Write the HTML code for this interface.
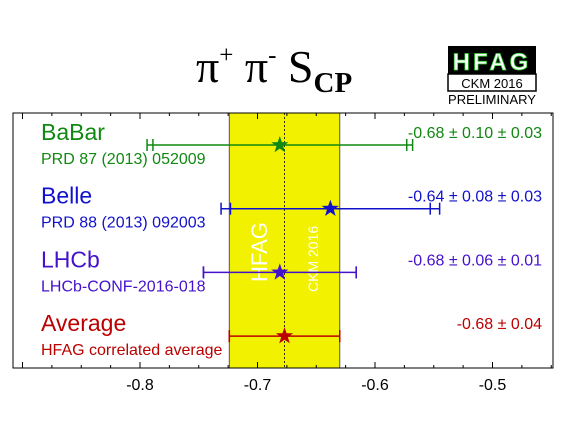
<!DOCTYPE html>
<html><head><meta charset="utf-8"><style>
body{margin:0;background:#fff;}
svg{display:block;font-family:"Liberation Sans",sans-serif;}
</style></head><body>
<svg width="567" height="425" viewBox="0 0 567 425">
<text x="196" y="82" font-family="Liberation Serif" font-size="46">π<tspan font-size="25" dy="-19">+</tspan><tspan dy="19"> π</tspan><tspan font-size="25" dy="-19">-</tspan><tspan dy="19"> S</tspan><tspan font-size="29" font-weight="bold" dy="10">CP</tspan></text>
<g>
<rect x="448" y="46" width="88" height="28" fill="#000"/>
<text x="492" y="70" font-size="24" font-weight="bold" fill="#fff" stroke="#3c3" stroke-width="0.8" text-anchor="middle" letter-spacing="3">HFAG</text>
<rect x="448" y="74" width="88" height="17" fill="#fff" stroke="#000" stroke-width="1.5"/>
<text x="492" y="88" font-size="13" text-anchor="middle">CKM 2016</text>
<text x="492" y="104" font-size="13" text-anchor="middle">PRELIMINARY</text>
</g>
<g id="plot"></g>
</svg>
<script>
const xTicks=[-0.8,-0.7,-0.6,-0.5];
const names=["BaBar","Belle","LHCb","Average"];
const refs=["PRD 87 (2013) 052009","PRD 88 (2013) 092003","LHCb-CONF-2016-018","HFAG correlated average"];
const centers=[-0.681,-0.638,-0.681,-0.677];
const statErr=[0.108,0.085,0.065,0.047];
const totErr=[0.113,0.093,0.065,0.047];
const valueText=["-0.68 ± 0.10 ± 0.03","-0.64 ± 0.08 ± 0.03","-0.68 ± 0.06 ± 0.01","-0.68 ± 0.04"];
const colors=["#118811","#1111cc","#4411cc","#bb0000"];
const band=[-0.724,-0.630];
const bandCenter=-0.677;
const X=v=>140+(v+0.8)*1175;
const rowY=i=>145+i*63.7;
const g=document.getElementById('plot');
const NS="http://www.w3.org/2000/svg";
function mk(t,a,txt){const e=document.createElementNS(NS,t);for(const k in a)e.setAttribute(k,a[k]);if(txt!=null)e.textContent=txt;g.appendChild(e);return e;}
let e;
e=mk('rect',{x:X(band[0]),y:113,width:X(band[1])-X(band[0]),height:255,fill:'#f2f200',stroke:'#555','stroke-width':1});


e=mk('line',{x1:X(bandCenter),x2:X(bandCenter),y1:113,y2:368,stroke:'#000','stroke-width':0.8,'stroke-dasharray':'2,2'});


e=mk('text',{x:0,y:0,transform:`translate(267,282) rotate(-90)`,fill:'#fff','font-size':22},'HFAG');


e=mk('text',{x:0,y:0,transform:`translate(318,292) rotate(-90)`,fill:'#fff','font-size':14},'CKM 2016');


e=mk('rect',{x:13,y:113,width:540,height:255,fill:'none',stroke:'#000','stroke-width':1});


for(let k=-36;k<=-18;k++){const i=k*0.025;const x=X(i);if(x<14||x>552)continue;const maj=(k%4===0);const L=maj?6:3;
e=mk('line',{x1:x,x2:x,y1:368,y2:368-L,stroke:'#000'});


e=mk('line',{x1:x,x2:x,y1:113,y2:113+L,stroke:'#000'});

}
xTicks.forEach(t=>{e=mk('text',{x:X(t),y:390,'font-size':16,'text-anchor':'middle'},t.toFixed(1));

});
function star(cx,cy,r){let p=[];for(let k=0;k<10;k++){const a=-Math.PI/2+k*Math.PI/5;const rr=k%2?r*0.4:r;p.push((cx+rr*Math.cos(a)).toFixed(1)+','+(cy+rr*Math.sin(a)).toFixed(1));}return p.join(' ');}
names.forEach((n,i)=>{const y=rowY(i),c=colors[i];
e=mk('text',{x:41,y:y-5,'font-size':23,fill:c},n);


e=mk('text',{x:41,y:y+19,'font-size':16,fill:c},refs[i]);


e=mk('text',{x:542,y:y-7,'font-size':16,fill:c,'text-anchor':'end'},valueText[i]);


const a=X(centers[i]-totErr[i]),b=X(centers[i]+totErr[i]);
e=mk('line',{x1:a,x2:b,y1:y,y2:y,stroke:c,'stroke-width':1.5});


[a,b,X(centers[i]-statErr[i]),X(centers[i]+statErr[i])].forEach(x=>{e=mk('line',{x1:x,x2:x,y1:y-6,y2:y+6,stroke:c,'stroke-width':1.5});

});
e=mk('polygon',{points:star(X(centers[i]),y,9),fill:c});


});
</script>
</body></html>
